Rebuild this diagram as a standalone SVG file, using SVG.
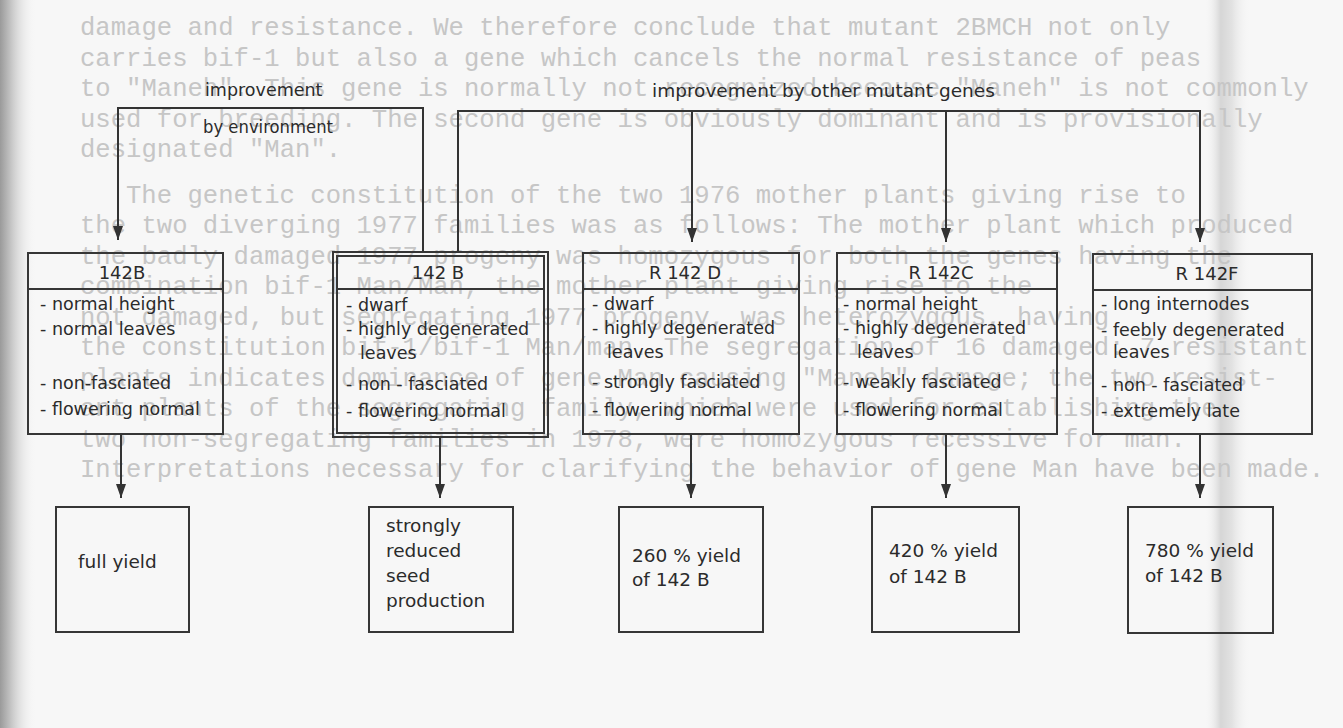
<svg xmlns="http://www.w3.org/2000/svg" width="1343" height="728" viewBox="0 0 1343 728">
<defs>
<linearGradient id="leftShade" x1="0" y1="0" x2="1" y2="0">
<stop offset="0" stop-color="#9a9a9a"/>
<stop offset="0.3" stop-color="#c4c4c4"/>
<stop offset="1" stop-color="#f6f6f6" stop-opacity="0"/>
</linearGradient>
<linearGradient id="fold" x1="0" y1="0" x2="1" y2="0">
<stop offset="0" stop-color="#f6f6f6" stop-opacity="0"/>
<stop offset="0.35" stop-color="#d6d6d6"/>
<stop offset="0.6" stop-color="#e2e2e2"/>
<stop offset="1" stop-color="#f6f6f6" stop-opacity="0"/>
</linearGradient>
<marker id="arrow" markerUnits="userSpaceOnUse" markerWidth="12" markerHeight="14" refX="5" refY="14" orient="0" viewBox="0 0 10 14">
<path d="M0,0 L10,0 L5,14 z" fill="#333"/>
</marker>
</defs>
<style>
.page{font-family:"Liberation Mono","DejaVu Sans Mono",monospace;font-size:25.6px;fill:#c6c6c6}
.box{fill:none;stroke:#363636;stroke-width:2}
.lbl{font-family:"DejaVu Sans","Liberation Sans",sans-serif;font-size:17.5px;fill:#2b2b2b}
.ttl{font-family:"DejaVu Sans","Liberation Sans",sans-serif;font-size:18px;fill:#2b2b2b;text-anchor:middle}
.res{font-family:"DejaVu Sans","Liberation Sans",sans-serif;font-size:18.5px;fill:#2b2b2b}
.con{fill:none;stroke:#333;stroke-width:2}
.arr{marker-end:url(#arrow)}
</style>
<rect x="0" y="0" width="1343" height="728" fill="#f7f7f7"/>
<rect x="0" y="0" width="36" height="728" fill="url(#leftShade)"/>
<rect x="1205" y="0" width="45" height="728" fill="url(#fold)"/>

<g id="page-text" class="page">
<text x="80" y="35">damage and resistance.  We therefore conclude that mutant 2BMCH not only</text>
<text x="80" y="65.5">carries bif-1 but also a gene which cancels the normal resistance of peas</text>
<text x="80" y="96">to "Maneh".  This gene is normally not recognized because "Maneh" is not commonly</text>
<text x="80" y="126.5">used for breeding.  The second gene is obviously dominant and is provisionally</text>
<text x="80" y="157">designated "Man".</text>
<text x="126" y="202.5">The genetic constitution of the two 1976 mother plants giving rise to</text>
<text x="80" y="233">the two diverging 1977 families was as follows:  The mother plant which produced</text>
<text x="80" y="263.5">the badly damaged 1977 progeny was homozygous for both the genes having the</text>
<text x="80" y="294">combination bif-1 Man/Man, the mother plant giving rise to the</text>
<text x="80" y="324.5">not damaged, but segregating 1977 progeny, was heterozygous, having</text>
<text x="80" y="355">the constitution bif-1/bif-1 Man/man. The segregation of 16 damaged: 7 resistant</text>
<text x="80" y="385.5">plants indicates dominance of gene Man causing "Maneh" damage; the two resist-</text>
<text x="80" y="416">ant plants of the segregating family, which were used for establishing the</text>
<text x="80" y="446.5">two non-segregating families in 1978, were homozygous recessive for man.</text>
<text x="80" y="477">Interpretations necessary for clarifying the behavior of gene Man have been made.</text>
</g>

<g id="labels">
<text class="lbl" x="205" y="96">improvement</text>
<text class="lbl" x="203" y="133" textLength="130" lengthAdjust="spacingAndGlyphs">by environment</text>
<text class="lbl" x="652" y="97" style="font-size:18.5px">improvement by other mutant genes</text>
</g>

<g id="connectors">
<path class="con arr" d="M423,253 V108 H118 V240"/>
<path class="con arr" d="M458,253 V111 H1200 V242"/>
<path class="con arr" d="M692,111 V242"/>
<path class="con arr" d="M946,111 V242"/>
<path class="con arr" d="M121,434 V498"/>
<path class="con arr" d="M440,438 V498"/>
<path class="con arr" d="M691,434 V498"/>
<path class="con arr" d="M946,434 V498"/>
<path class="con arr" d="M1200,434 V498"/>
</g>

<g id="n-142B-normal">
<rect class="box" x="28" y="253" width="195" height="181"/>
<line class="box" x1="28" y1="289" x2="223" y2="289"/>
<text class="ttl" x="122" y="279">142B</text>
<text class="lbl" x="40" y="310">- normal height</text>
<text class="lbl" x="40" y="335">- normal leaves</text>
<text class="lbl" x="40" y="389">- non-fasciated</text>
<text class="lbl" x="40" y="415">- flowering normal</text>
</g>

<g id="n-142B-dwarf">
<rect class="box" x="333" y="252" width="215" height="185"/>
<rect class="box" x="337" y="256" width="207" height="177"/>
<line class="box" x1="337" y1="289" x2="544" y2="289"/>
<text class="ttl" x="438" y="279">142 B</text>
<text class="lbl" x="346" y="311">- dwarf</text>
<text class="lbl" x="346" y="335">- highly degenerated</text>
<text class="lbl" x="360" y="359">leaves</text>
<text class="lbl" x="346" y="390">- non - fasciated</text>
<text class="lbl" x="346" y="417">- flowering normal</text>
</g>

<g id="n-R142D">
<rect class="box" x="583" y="253" width="216" height="181"/>
<line class="box" x1="583" y1="289" x2="799" y2="289"/>
<text class="ttl" x="685" y="279">R 142 D</text>
<text class="lbl" x="592" y="310">- dwarf</text>
<text class="lbl" x="592" y="334">- highly degenerated</text>
<text class="lbl" x="607" y="358">leaves</text>
<text class="lbl" x="592" y="388">- strongly fasciated</text>
<text class="lbl" x="592" y="416">- flowering normal</text>
</g>

<g id="n-R142C">
<rect class="box" x="837" y="253" width="220" height="181"/>
<line class="box" x1="837" y1="289" x2="1057" y2="289"/>
<text class="ttl" x="941" y="279">R 142C</text>
<text class="lbl" x="843" y="310">- normal height</text>
<text class="lbl" x="843" y="334">- highly degenerated</text>
<text class="lbl" x="857" y="358">leaves</text>
<text class="lbl" x="843" y="388">- weakly fasciated</text>
<text class="lbl" x="843" y="416">- flowering normal</text>
</g>

<g id="n-R142F">
<rect class="box" x="1093" y="254" width="219" height="180"/>
<line class="box" x1="1093" y1="290" x2="1312" y2="290"/>
<text class="ttl" x="1207" y="280">R 142F</text>
<text class="lbl" x="1101" y="310">- long internodes</text>
<text class="lbl" x="1101" y="336">- feebly degenerated</text>
<text class="lbl" x="1113" y="358">leaves</text>
<text class="lbl" x="1101" y="391">- non - fasciated</text>
<text class="lbl" x="1101" y="417">- extremely late</text>
</g>

<g id="r-full-yield">
<rect class="box" x="56" y="507" width="133" height="125"/>
<text class="res" x="78" y="568">full yield</text>
</g>

<g id="r-reduced">
<rect class="box" x="369" y="507" width="144" height="125"/>
<text class="res" x="386" y="532">strongly</text>
<text class="res" x="386" y="557">reduced</text>
<text class="res" x="386" y="582">seed</text>
<text class="res" x="386" y="607">production</text>
</g>

<g id="r-260">
<rect class="box" x="619" y="507" width="144" height="125"/>
<text class="res" x="632" y="562">260 % yield</text>
<text class="res" x="632" y="586">of 142 B</text>
</g>

<g id="r-420">
<rect class="box" x="872" y="507" width="147" height="125"/>
<text class="res" x="889" y="557">420 % yield</text>
<text class="res" x="889" y="583">of 142 B</text>
</g>

<g id="r-780">
<rect class="box" x="1128" y="507" width="145" height="126"/>
<text class="res" x="1145" y="557">780 % yield</text>
<text class="res" x="1145" y="582">of 142 B</text>
</g>
</svg>
